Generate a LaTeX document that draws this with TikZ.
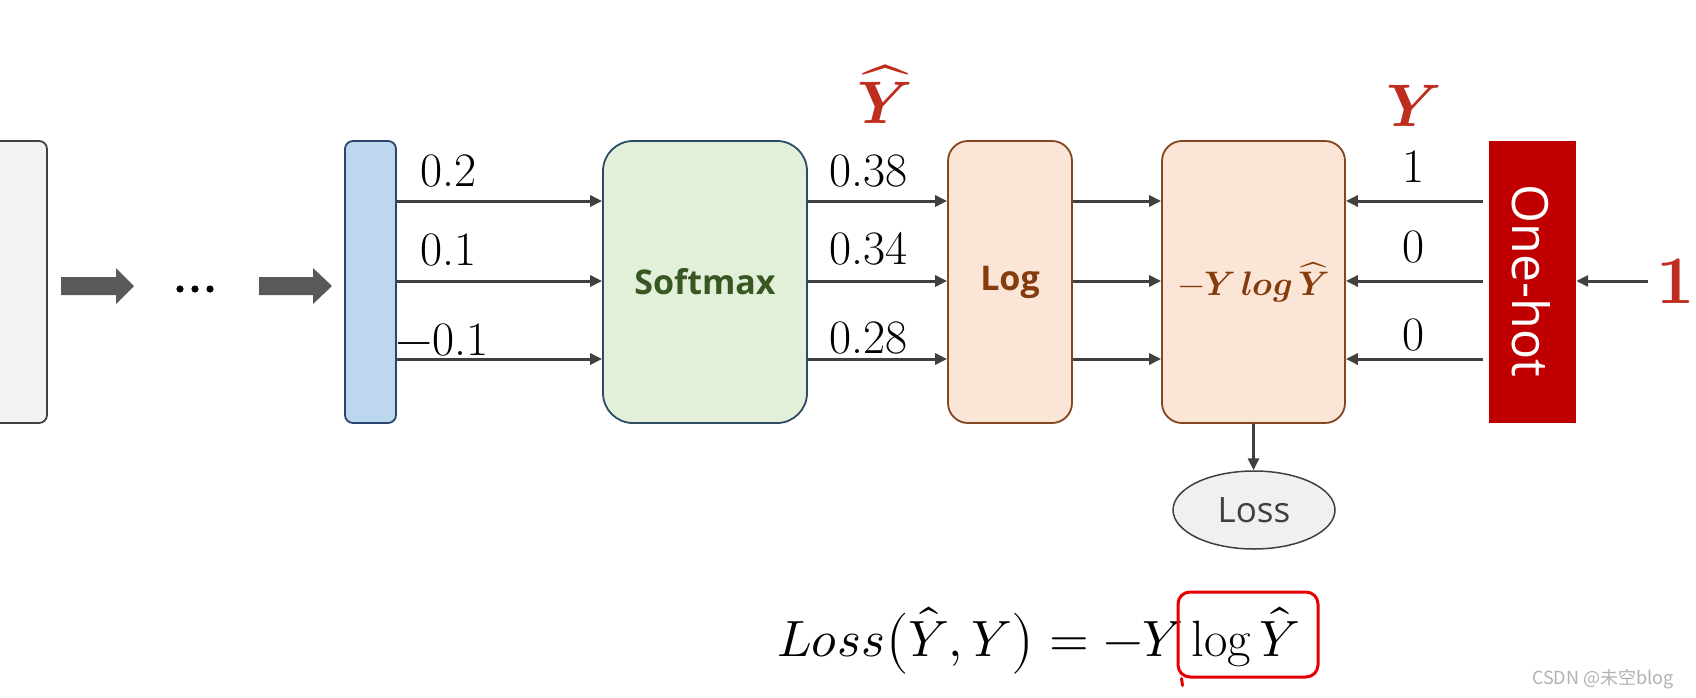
\documentclass[tikz,border=0pt]{standalone}
\usepackage{fontspec}
\usepackage{unicode-math}
\setmathfont{Latin Modern Math}
\newfontfamily\sansf{Open Sans}
\newfontfamily\cjkf{Noto Sans CJK SC}
\usetikzlibrary{arrows.meta,shapes.geometric}
\newcommand\setfs[1]{\fontsize{#1pt}{#1pt}\selectfont}
\definecolor{lgray}{RGB}{242,242,242}
\definecolor{dgray}{RGB}{64,64,64}
\definecolor{blkarrow}{RGB}{89,89,89}
\definecolor{bluefill}{RGB}{189,215,238}
\definecolor{blueedge}{RGB}{40,70,110}
\definecolor{greenfill}{RGB}{226,240,217}
\definecolor{greenedge}{RGB}{45,75,100}
\definecolor{greentext}{RGB}{56,87,35}
\definecolor{orfill}{RGB}{251,229,214}
\definecolor{oredge}{RGB}{132,70,30}
\definecolor{browntext}{RGB}{132,60,12}
\definecolor{ohred}{RGB}{192,0,0}
\definecolor{labelred}{RGB}{190,45,30}
\definecolor{pen}{RGB}{230,0,0}
\definecolor{lossfill}{RGB}{240,240,240}
\begin{document}
\begin{tikzpicture}[x=1pt,y=-1pt,
  conn/.style={draw=dgray, line width=3pt, -{Triangle[length=12pt,width=11pt]}},
  tallbox/.style={draw, line width=1.8pt, inner sep=0pt, minimum height=282pt},
  num/.style={anchor=base, inner sep=0pt, font=\setfs{48}},
  redlbl/.style={anchor=base, inner sep=0pt, text=labelred, font=\setfs{60}}
]
\useasboundingbox (0,0) rectangle (1696,698);
\fill[white] (0,0) rectangle (1696,698);
\coordinate (r1) at (0,201);
\coordinate (r2) at (0,281);
\coordinate (r3) at (0,359);

% boxes
\node[tallbox, fill=lgray, draw=dgray, rounded corners=8pt, minimum width=80pt] (inp) at (7,282) {};
\node[tallbox, fill=bluefill, draw=blueedge, rounded corners=8pt, minimum width=51pt] (hid) at (370.5,282) {};
\node[tallbox, fill=greenfill, draw=greenedge, rounded corners=30pt, minimum width=204pt,
      text=greentext, font=\sansf\bfseries\setfs{34}] (soft) at (705,282) {Softmax};
\node[tallbox, fill=orfill, draw=oredge, rounded corners=20pt, minimum width=124pt,
      text=browntext, font=\sansf\bfseries\setfs{34}] (lg) at (1010,282) {Log};
\node[tallbox, fill=orfill, draw=oredge, rounded corners=20pt, minimum width=183pt,
      text=browntext, font=\setfs{34}] (ce) at (1253.5,282) {$-\symbfit{Y}\,\symbfit{log}\,\widehat{\symbfit{Y}}$};
\node[fill=ohred, minimum width=87pt, minimum height=282pt, inner sep=0pt] (oh) at (1532.5,282) {};
\node[rotate=-90, text=white, font=\sansf\setfs{50}, inner sep=0pt] (ohtxt) at (1531,281) {One-hot};
\node[ellipse, draw=dgray, line width=1.5pt, fill=lossfill, minimum width=162pt, minimum height=78pt,
      inner sep=0pt, font=\sansf\setfs{35}, text=dgray] (loss) at (1254,510) {Loss};

% block arrows and dots
\fill[blkarrow] (61,277) -- (116,277) -- (116,268) -- (134,286) -- (116,304) -- (116,295) -- (61,295) -- cycle;
\fill[blkarrow] (259,277) -- (313,277) -- (313,268) -- (332,286) -- (313,304) -- (313,295) -- (259,295) -- cycle;
\foreach \x in {180,195,210} \fill[black] (\x,289) circle (3.6pt);

% connectors
\foreach \r in {r1,r2,r3} {
  \draw[conn] (hid.east |- \r) -- (soft.west |- \r);
  \draw[conn] (soft.east |- \r) -- (lg.west |- \r);
  \draw[conn] (lg.east |- \r) -- (ce.west |- \r);
  \draw[conn, shorten <=6pt] (oh.west |- \r) -- (ce.east |- \r);
}
\node[redlbl, font=\bfseries\setfs{68}] (one) at (1676,303) {1};
\draw[conn, shorten <=9pt] (one.west |- r2) -- (oh.east |- r2);
\draw[conn] (ce.south) -- (ce.south |- loss.north);

% labels
\node[num, anchor=base west] (a1) at (420,186) {0.2};
\node[num, anchor=base west] (a2) at (420,265) {0.1};
\node[num, anchor=base west] (a3) at (395,355) {$-$0.1};
\node[num, anchor=base west] (b1) at (829,186) {0.38};
\node[num, anchor=base west] (b2) at (829,264) {0.34};
\node[num, anchor=base west] (b3) at (829,353) {0.28};
\node[num] (c1) at (1413,182) {1};
\node[num] (c2) at (1413,262) {0};
\node[num] (c3) at (1413,350) {0};
\node[redlbl] (yhat) at (885,124) {$\widehat{\symbfit{Y}}$};
\node[redlbl] (ylab) at (1414,127) {$\symbfit{Y}$};

% formula
\node[anchor=base west, inner sep=0pt, font=\setfs{51}] (formula) at (777,656)
  {$Loss\bigl(\hat{Y},Y\bigr)=-Y\log\hat{Y}$};
\node[draw=pen, line width=3pt, rounded corners=12pt, minimum width=140pt, minimum height=85pt,
      inner sep=0pt] (mark) at (1248,634.5) {};
\draw[pen, line width=3pt, line cap=round] ([xshift=5pt]mark.south west) -- ([xshift=6pt,yshift=-7pt]mark.south west);

% watermark
\node[anchor=base west, inner sep=0pt, text=black!30, font=\cjkf\setfs{18}] (wm) at (1532,684) {CSDN @未空blog};
\end{tikzpicture}
\end{document}
